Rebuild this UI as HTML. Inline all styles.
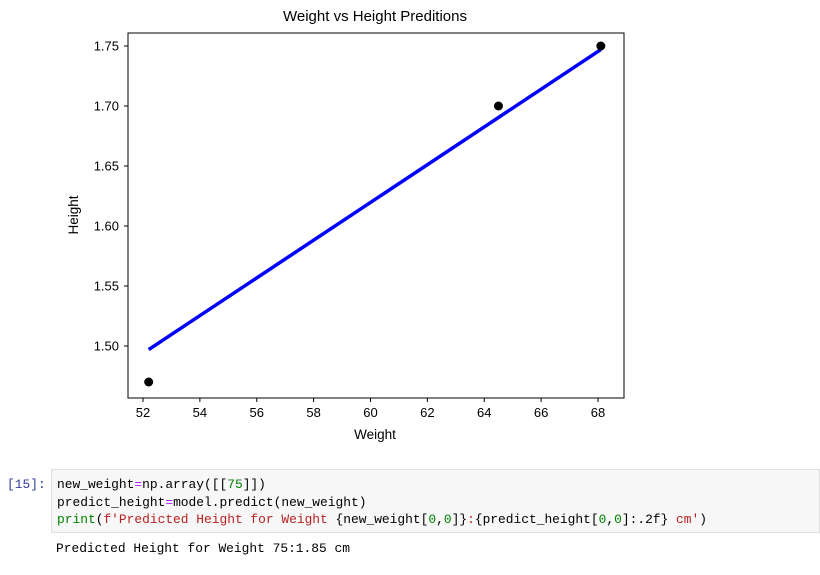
<!DOCTYPE html>
<html><head><meta charset="utf-8"><style>
body{margin:0;width:820px;height:575px;background:#fff;overflow:hidden;position:relative;font-family:"Liberation Sans",sans-serif}
.mono{font-family:"Liberation Mono",monospace;font-size:12.9px;line-height:17.5px;white-space:pre}
</style></head><body>
<svg width="820" height="460" style="position:absolute;left:0;top:0" id="chart">
<text x="375" y="21" font-size="15" text-anchor="middle" fill="#000">Weight vs Height Preditions</text>
<text x="375" y="439" font-size="13.5" text-anchor="middle">Weight</text>
<text transform="translate(78,215) rotate(-90)" font-size="13.5" text-anchor="middle">Height</text>
<g id="ticks"></g><g id="marks"></g>
<rect x="128" y="33" width="496" height="365" fill="none" stroke="#000" stroke-width="1"/>
</svg>
<div class="mono" style="position:absolute;left:7px;top:476px;color:#303f9f">[15]:</div>
<div class="mono" style="position:absolute;left:51px;top:469px;width:769px;height:64px;background:#f7f7f7;border:1px solid #e0e0e0;box-sizing:border-box;padding:6px 0 0 5px;color:#000">new_weight<span style="color:#aa22ff">=</span>np.array([[<span style="color:#008000">75</span>]])
predict_height<span style="color:#aa22ff">=</span>model.predict(new_weight)
<span style="color:#008000">print</span>(<span style="color:#ba2121">f'Predicted Height for Weight </span>{new_weight[<span style="color:#008000">0</span>,<span style="color:#008000">0</span>]}<span style="color:#ba2121">:</span>{predict_height[<span style="color:#008000">0</span>,<span style="color:#008000">0</span>]:.2f}<span style="color:#ba2121"> cm'</span>)</div>
<div class="mono" style="position:absolute;left:56px;top:540px;color:#000">Predicted Height for Weight 75:1.85 cm</div>
<script>
const xTicks=[52,54,56,58,60,62,64,66,68];
const yTicks=[1.50,1.55,1.60,1.65,1.70,1.75];
const weights=[52.2,64.5,68.1];
const heights=[1.47,1.70,1.75];
const lineX=[52.2,68.1];
const lineY=[1.497,1.747];
const NS="http://www.w3.org/2000/svg";
const sx=v=>143+(v-52)*(598-143)/16;
const sy=v=>346-(v-1.5)*1200;
const tg=document.getElementById('ticks'),mg=document.getElementById('marks');
function mk(t,a,p){const e=document.createElementNS(NS,t);for(const k in a)e.setAttribute(k,a[k]);p.appendChild(e);return e;}
xTicks.forEach(v=>{const x=sx(v);
const l=mk('line',{x1:x,x2:x,y1:398,y2:402,stroke:'#000'},tg);


const t=mk('text',{x:x,y:417,'font-size':13,'text-anchor':'middle'},tg);t.textContent=v;

});
yTicks.forEach(v=>{const y=sy(v);
const l=mk('line',{x1:124,x2:128,y1:y,y2:y,stroke:'#000'},tg);


const t=mk('text',{x:119,y:y+4.5,'font-size':13,'text-anchor':'end'},tg);t.textContent=v.toFixed(2);

});
const ln=mk('line',{x1:sx(lineX[0]),y1:sy(lineY[0]),x2:sx(lineX[1]),y2:sy(lineY[1]),stroke:'#0000ff','stroke-width':3.5},mg);


weights.forEach((w,i)=>{const c=mk('circle',{cx:sx(w),cy:sy(heights[i]),r:4.5,fill:'#000'},mg);

});
</script>
</body></html>
